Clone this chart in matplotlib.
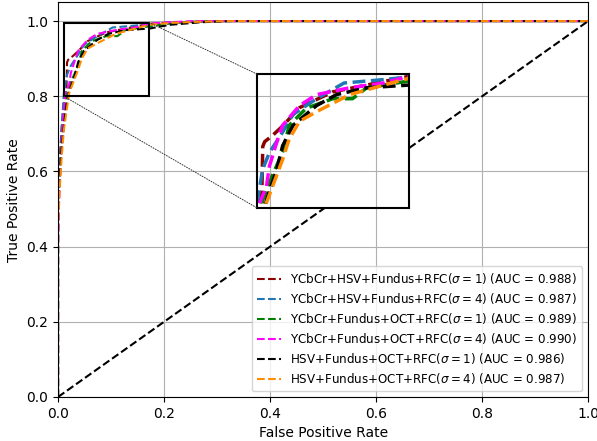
import numpy as np
import matplotlib
matplotlib.use("Agg")
import matplotlib.pyplot as plt
from matplotlib.patches import Rectangle, ConnectionPatch

## data
labels = [r"YCbCr+HSV+Fundus+RFC($\sigma=1$) (AUC = 0.988)",
          r"YCbCr+HSV+Fundus+RFC($\sigma=4$) (AUC = 0.987)",
          r"YCbCr+Fundus+OCT+RFC($\sigma=1$) (AUC = 0.989)",
          r"YCbCr+Fundus+OCT+RFC($\sigma=4$) (AUC = 0.990)",
          r"HSV+Fundus+OCT+RFC($\sigma=1$) (AUC = 0.986)",
          r"HSV+Fundus+OCT+RFC($\sigma=4$) (AUC = 0.987)"]
colors = ["darkred", "#1f77b4", "green", "magenta", "black", "darkorange"]

fpr_red = [0, 0, 0.002, 0.004, 0.007, 0.010, 0.013, 0.016, 0.017, 0.019, 0.028, 0.038, 0.056, 0.091, 0.127, 0.172, 0.21, 0.26, 0.32, 1.0]
tpr_red = [0, 0.50, 0.58, 0.65, 0.72, 0.77, 0.80, 0.82, 0.89, 0.897, 0.907, 0.92, 0.947, 0.97, 0.98, 0.993, 0.996, 0.998, 1.0, 1.0]

fpr_blue = [0, 0, 0.002, 0.005, 0.008, 0.011, 0.017, 0.024, 0.038, 0.049, 0.074, 0.103, 0.145, 0.172, 0.22, 0.28, 1.0]
tpr_blue = [0, 0.48, 0.56, 0.66, 0.74, 0.808, 0.857, 0.881, 0.911, 0.937, 0.96, 0.983, 0.988, 0.992, 0.997, 1.0, 1.0]

fpr_green = [0, 0, 0.003, 0.006, 0.010, 0.014, 0.017, 0.027, 0.038, 0.045, 0.063, 0.091, 0.112, 0.127, 0.172, 0.22, 0.27, 1.0]
tpr_green = [0, 0.50, 0.57, 0.66, 0.73, 0.78, 0.812, 0.847, 0.882, 0.921, 0.946, 0.96, 0.96, 0.976, 0.986, 0.995, 1.0, 1.0]

fpr_mag = [0, 0, 0.002, 0.005, 0.008, 0.011, 0.014, 0.021, 0.024, 0.032, 0.038, 0.056, 0.074, 0.109, 0.145, 0.172, 0.21, 0.26, 1.0]
tpr_mag = [0, 0.40, 0.52, 0.62, 0.70, 0.76, 0.808, 0.832, 0.861, 0.897, 0.921, 0.95, 0.966, 0.976, 0.983, 0.993, 0.997, 1.0, 1.0]

fpr_black = [0, 0, 0.003, 0.007, 0.011, 0.015, 0.021, 0.032, 0.038, 0.049, 0.074, 0.095, 0.127, 0.172, 0.21, 0.27, 0.33, 1.0]
tpr_black = [0, 0.52, 0.58, 0.66, 0.72, 0.77, 0.812, 0.857, 0.891, 0.921, 0.95, 0.966, 0.976, 0.98, 0.99, 0.997, 1.0, 1.0]

fpr_orange = [0, 0, 0.003, 0.007, 0.011, 0.016, 0.021, 0.038, 0.045, 0.056, 0.074, 0.109, 0.145, 0.172, 0.21, 0.26, 0.32, 1.0]
tpr_orange = [0, 0.45, 0.55, 0.64, 0.71, 0.76, 0.808, 0.871, 0.901, 0.927, 0.941, 0.966, 0.98, 0.99, 0.995, 0.998, 1.0, 1.0]

fprs = [fpr_red, fpr_blue, fpr_green, fpr_mag, fpr_black, fpr_orange]
tprs = [tpr_red, tpr_blue, tpr_green, tpr_mag, tpr_black, tpr_orange]

zoomX = (0.011, 0.172)
zoomY = (0.8, 0.996)

## main plot
fig = plt.figure(figsize=(5.97, 4.41), dpi=100)
ax = fig.add_axes([0.0972, 0.0998, 0.888, 0.895])

for i in range(len(labels)):
    ax.plot(fprs[i], tprs[i], "--", color=colors[i], lw=1.5, label=labels[i])
ax.plot([0, 1], [0, 1], "k--", lw=1.5)

ax.set_xlim(0, 1)
ax.set_ylim(0, 1.05)
ax.set_xlabel("False Positive Rate")
ax.set_ylabel("True Positive Rate")
ax.grid(True)
ax.legend(loc="lower right", fontsize=8.6, labelspacing=0.42)

## zoom box + inset
ax.add_patch(Rectangle((zoomX[0], zoomY[0]), zoomX[1]-zoomX[0], zoomY[1]-zoomY[0],
                       fill=False, ec="black", lw=1.5, zorder=5))

axins = ax.inset_axes([0.3755, 0.479, 0.287, 0.339])
for i in range(len(labels)):
    axins.plot(fprs[i], tprs[i], "--", color=colors[i], lw=2.5)
axins.set_xlim(*zoomX)
axins.set_ylim(*zoomY)
axins.set_xticks([])
axins.set_yticks([])
for sp in axins.spines.values():
    sp.set_linewidth(1.5)
# main grid lines seen through the inset
for v in [0.4, 0.6]:
    axins.plot([v, v], [0, 1.05], transform=ax.transData, color="#b0b0b0", lw=0.8, zorder=0)
for v in [0.6, 0.8]:
    axins.plot([0, 1], [v, v], transform=ax.transData, color="#b0b0b0", lw=0.8, zorder=0)

con1 = ConnectionPatch(xyA=(zoomX[1], zoomY[1]), coordsA=ax.transData,
                       xyB=(0, 1), coordsB=axins.transAxes, ls=":", lw=0.7, color="0.2")
con2 = ConnectionPatch(xyA=(zoomX[0], zoomY[0]), coordsA=ax.transData,
                       xyB=(0, 0), coordsB=axins.transAxes, ls=":", lw=0.7, color="0.2")
fig.add_artist(con1)
fig.add_artist(con2)

fig.savefig("out.png", dpi=100)
